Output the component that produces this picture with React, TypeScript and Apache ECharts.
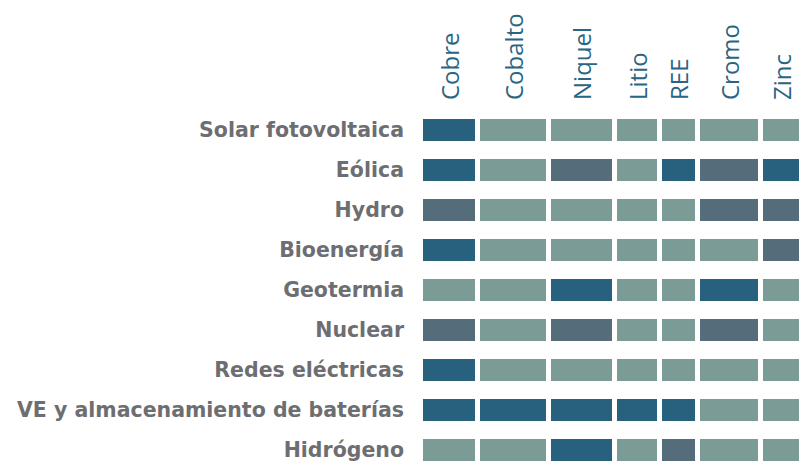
import React, { useEffect, useRef } from "react";
import * as echarts from "echarts";

const minerals = ["Cobre", "Cobalto", "Niquel", "Litio", "REE", "Cromo", "Zinc"];
const mineralWeights = [57, 71, 66, 45, 38, 63, 41];
const technologies = [
  "Solar fotovoltaica",
  "Eólica",
  "Hydro",
  "Bioenergía",
  "Geotermia",
  "Nuclear",
  "Redes eléctricas",
  "VE y almacenamiento de baterías",
  "Hidrógeno",
];
// 3 = alta, 2 = moderada, 1 = baja
const importance: number[][] = [
  [3, 1, 1, 1, 1, 1, 1],
  [3, 1, 2, 1, 3, 2, 3],
  [2, 1, 1, 1, 1, 2, 2],
  [3, 1, 1, 1, 1, 1, 2],
  [1, 1, 3, 1, 1, 3, 1],
  [2, 1, 2, 1, 1, 2, 1],
  [3, 1, 1, 1, 1, 1, 1],
  [3, 3, 3, 3, 3, 1, 1],
  [1, 1, 3, 1, 2, 1, 1],
];
const levelColors: Record<number, string> = {
  1: "#7b9b97",
  2: "#556d7a",
  3: "#27617e",
};

const GAP = 5;

export default function App() {
  const ref = useRef<HTMLDivElement>(null);
  useEffect(() => {
    if (!ref.current) return;
    document.body.style.margin = "0";
    const chart = echarts.init(ref.current, undefined, { renderer: "svg" });
    const starts: number[] = [];
    let acc = 0;
    mineralWeights.forEach((w) => {
      starts.push(acc);
      acc += w;
    });
    const total = acc;
    const cells: number[][] = [];
    technologies.forEach((_, r) => {
      minerals.forEach((_, c) => {
        cells.push([starts[c], starts[c] + mineralWeights[c], r, importance[r][c]]);
      });
    });
    const headers = minerals.map((m, c) => [starts[c], starts[c] + mineralWeights[c], c]);

    chart.setOption({
      animation: false,
      grid: { left: 423, top: 110, width: total, height: 360, containLabel: false },
      xAxis: { type: "value", min: 0, max: total, show: false },
      yAxis: {
        type: "category",
        data: technologies,
        inverse: true,
        axisLine: { show: false },
        axisTick: { show: false },
        splitLine: { show: false },
        axisLabel: {
          margin: 19,
          fontSize: 20.5,
          fontWeight: "bold",
          color: "#6d6e71",
          fontFamily: "DejaVu Sans",
        },
      },
      series: [
        {
          type: "custom",
          clip: false,
          data: cells,
          renderItem: (params: any, api: any) => {
            const r = api.value(2);
            const s = api.coord([api.value(0), r]);
            const e = api.coord([api.value(1), r]);
            const h = api.size([0, 1])[1] * 0.55;
            return {
              type: "rect",
              shape: { x: s[0], y: s[1] - h / 2, width: e[0] - s[0] - GAP, height: h },
              style: { fill: levelColors[api.value(3)] },
            };
          },
        },
        {
          type: "custom",
          clip: false,
          data: headers,
          renderItem: (params: any, api: any) => {
            const s = api.coord([api.value(0), 0]);
            const e = api.coord([api.value(1), 0]);
            const cx = (s[0] + e[0] - GAP) / 2;
            const top = params.coordSys.y;
            return {
              type: "text",
              x: cx,
              y: top - 10,
              rotation: Math.PI / 2,
              style: {
                text: minerals[api.value(2)],
                align: "left",
                verticalAlign: "middle",
                fontSize: 24,
                fontWeight: 400,
                fontFamily: "Open Sans",
                fill: "#2a6583",
              },
            };
          },
        },
      ],
    });
    return () => chart.dispose();
  }, []);
  return (
    <div style={{ width: 799, height: 461, overflow: "hidden", position: "relative" }}>
      <div ref={ref} style={{ width: 820, height: 480 }} />
    </div>
  );
}
